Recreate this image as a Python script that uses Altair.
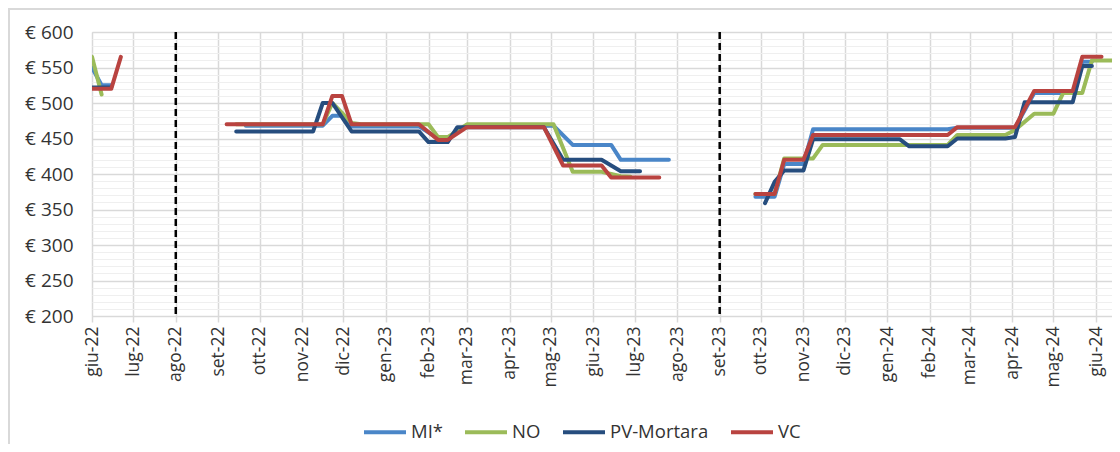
import altair as alt
import pandas as pd

SERIES = ["MI*", "NO", "PV-Mortara", "VC"]
COLORS = ["#4A86C8", "#9BBB59", "#264D7E", "#B94340"]
MONTHS_IT = ["gen", "feb", "mar", "apr", "mag", "giu", "lug", "ago", "set", "ott", "nov", "dic"]
Y_TICKS = [200, 250, 300, 350, 400, 450, 500, 550, 600]
Y_MINOR = [210, 220, 230, 240, 260, 270, 280, 290, 310, 320, 330, 340, 360, 370, 380, 390,
           410, 420, 430, 440, 460, 470, 480, 490, 510, 520, 530, 540, 560, 570, 580, 590]
MARKER_DATES = ["2022-08-01", "2023-09-01"]

MI_DATES = ["2022-06-01", "2022-06-08", "2022-06-15", None,
            "2022-09-21", "2022-11-16", "2022-11-23", "2022-11-30", "2022-12-07", "2023-01-25",
            "2023-02-08", "2023-02-15", "2023-03-01", "2023-05-03", "2023-05-17", "2023-06-14",
            "2023-06-21", "2023-07-26", None,
            "2023-09-27", "2023-10-11", "2023-10-18", "2023-11-01", "2023-11-08", "2024-02-14",
            "2024-02-21", "2024-04-03", "2024-04-17", "2024-05-15", "2024-05-22", "2024-05-29"]
MI_VALUES = [550, 525, 525, None,
             468, 468, 482, 482, 467, 467, 450, 450, 468, 468, 441, 441, 420, 420, None,
             368, 368, 414, 414, 463, 463, 465, 465, 514, 514, 558, 558]

NO_DATES = ["2022-06-01", "2022-06-08", None,
            "2022-09-14", "2022-11-16", "2022-11-23", "2022-11-30", "2022-12-07", "2022-12-14",
            "2023-02-01", "2023-02-08", "2023-02-15", "2023-03-01", "2023-05-03", "2023-05-17",
            "2023-06-07", "2023-06-14", "2023-06-21", "2023-06-28", None,
            "2023-09-27", "2023-10-11", "2023-10-18", "2023-11-08", "2023-11-15", "2024-02-14",
            "2024-02-21", "2024-03-27", "2024-04-03", "2024-04-17", "2024-05-01", "2024-05-08",
            "2024-05-22", "2024-05-29", "2024-06-19"]
NO_VALUES = [565, 512, None,
             470, 470, 500, 486, 472, 470, 470, 452, 452, 470, 470, 403, 403, 400, 397, 396, None,
             372, 372, 422, 422, 441, 441, 455, 455, 462, 485, 485, 514, 514, 560, 560]

PV_DATES = ["2022-06-01", "2022-06-15", None,
            "2022-09-14", "2022-11-09", "2022-11-16", "2022-11-23", "2022-12-07", "2023-01-25",
            "2023-02-01", "2023-02-15", "2023-02-22", "2023-04-26", "2023-05-10", "2023-06-07",
            "2023-06-21", "2023-07-05", None,
            "2023-10-04", "2023-10-11", "2023-10-18", "2023-11-01", "2023-11-08", "2024-01-10",
            "2024-01-17", "2024-02-14", "2024-02-21", "2024-03-27", "2024-04-03", "2024-04-10",
            "2024-05-15", "2024-05-22", "2024-05-29"]
PV_VALUES = [522, 522, None,
             460, 460, 500, 500, 460, 460, 445, 445, 466, 466, 420, 420, 404, 404, None,
             359, 389, 405, 405, 449, 449, 439, 439, 450, 450, 452, 501, 501, 552, 552]

VC_DATES = ["2022-06-01", "2022-06-15", "2022-06-22", None,
            "2022-09-07", "2022-11-16", "2022-11-23", "2022-11-30", "2022-12-07", "2023-01-25",
            "2023-02-08", "2023-02-15", "2023-03-01", "2023-04-26", "2023-05-10", "2023-06-07",
            "2023-06-14", "2023-07-19", None,
            "2023-09-27", "2023-10-11", "2023-10-18", "2023-11-01", "2023-11-08", "2024-02-14",
            "2024-02-21", "2024-04-03", "2024-04-17", "2024-05-15", "2024-05-22", "2024-06-05"]
VC_VALUES = [520, 520, 565, None,
             470, 470, 510, 510, 470, 470, 448, 448, 466, 466, 412, 412, 395, 395, None,
             372, 372, 420, 420, 455, 455, 466, 466, 517, 517, 565, 565]

rows = []
for name, dates, vals in zip(SERIES, [MI_DATES, NO_DATES, PV_DATES, VC_DATES],
                             [MI_VALUES, NO_VALUES, PV_VALUES, VC_VALUES]):
    seg = 0
    for d, v in zip(dates, vals):
        if d is None:
            seg += 1
            continue
        rows.append({"series": name, "segment": seg, "date": d, "price": v})
df = pd.DataFrame(rows)
markers = pd.DataFrame({"date": MARKER_DATES})
one = pd.DataFrame({"a": [0]})

FONT = "Open Sans"
TXT = "#333333"
GRID = "#d9d9d9"

x_scale = alt.Scale(type="utc", domain=[
    alt.DateTime(year=2022, month=6, date=1, utc=True),
    alt.DateTime(year=2024, month=6, date=12, hours=15, utc=True)])
y_scale = alt.Scale(domain=[200, 600], nice=False, zero=False)

months_js = "[" + ",".join("'%s'" % m for m in MONTHS_IT) + "]"
x_axis = alt.Axis(
    tickCount=alt.TimeIntervalStep(interval="month", step=1),
    labelExpr=months_js + "[utcmonth(datum.value)] + '-' + utcFormat(datum.value, '%y')",
    labelAngle=-90, labelFontSize=17.5, labelFont=FONT, labelColor=TXT, labelPadding=4,
    labelOverlap=False, tickSize=6, tickColor=GRID, tickWidth=1.5, domain=False,
    grid=True, gridColor=GRID, gridWidth=1.5, title=None)

y_minor = alt.Axis(values=Y_MINOR, orient="left", labels=False, ticks=False, domain=False,
                   grid=True, gridColor="#efefef", gridWidth=1, title=None)
y_major = alt.Axis(values=Y_TICKS, orient="left", labelExpr="'€ ' + datum.value",
                   labelFontSize=19, labelFont=FONT, labelColor=TXT, labelPadding=19,
                   ticks=False, domain=False, grid=True, gridColor=GRID, gridWidth=1.5,
                   title=None)

legend = alt.Legend(title=None, orient="none", legendX=270, legendY=377,
                    direction="horizontal", symbolType="stroke", symbolSize=1764,
                    symbolStrokeWidth=4, labelFontSize=18.5, labelFont=FONT, labelColor=TXT,
                    labelOffset=3, columnPadding=14, padding=0, labelLimit=300)
color = alt.Color("series:N", scale=alt.Scale(domain=SERIES, range=COLORS), legend=legend)

layers = []
for i, name in enumerate(SERIES):
    xa = x_axis if i == 0 else None
    ya = y_minor if i == 0 else (y_major if i == 1 else None)
    layers.append(
        alt.Chart(df).transform_filter(alt.datum.series == name)
        .mark_line(strokeWidth=4, clip=True, strokeCap="round", strokeJoin="round")
        .encode(x=alt.X("date:T", scale=x_scale, axis=xa),
                y=alt.Y("price:Q", scale=y_scale, axis=ya),
                color=color, detail="segment:N")
    )

dashed = alt.Chart(markers).mark_rule(color="black", strokeWidth=2.5, strokeDash=[7, 4]).encode(
    x=alt.X("date:T", scale=x_scale, axis=None))

border_top = alt.Chart(one).mark_rule(color=GRID, strokeWidth=2).encode(
    x=alt.value(-84), x2=alt.value(1030), y=alt.value(-23))
border_left = alt.Chart(one).mark_rule(color=GRID, strokeWidth=2).encode(
    x=alt.value(-83), y=alt.value(-23), y2=alt.value(420))

chart = alt.layer(border_top, border_left, *layers, dashed).resolve_axis(
    x="independent", y="independent"
).properties(
    width=1020, height=284,
    padding={"left": 84, "top": 24, "right": 0, "bottom": 128},
    autosize=alt.AutoSizeParams(type="none"),
    background="white",
).configure_view(strokeWidth=0).configure(font=FONT)

chart.save("out.html", embed_options={"renderer": "svg", "actions": False})
